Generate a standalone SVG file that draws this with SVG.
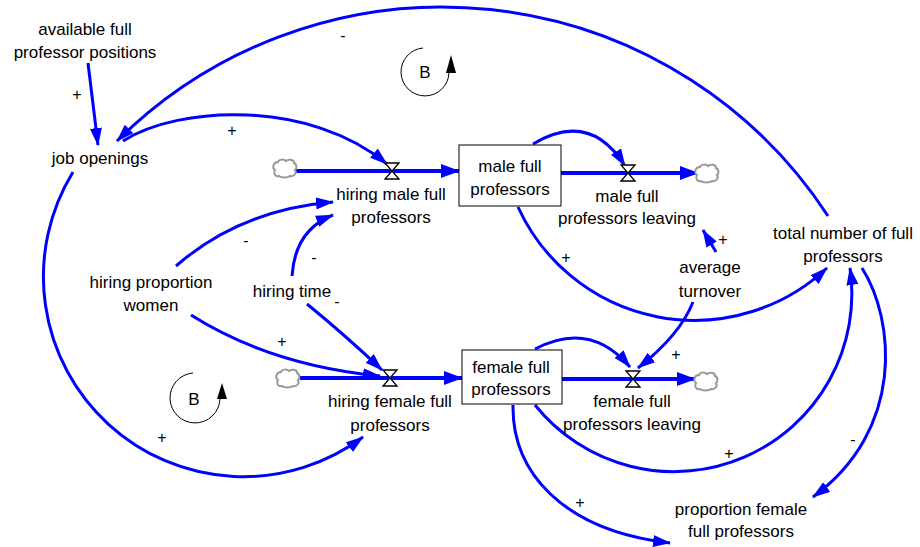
<svg xmlns="http://www.w3.org/2000/svg" width="920" height="547" viewBox="0 0 920 547">
<style>
text{font-family:"Liberation Sans",Arial,sans-serif;font-size:17px;fill:#000;text-anchor:middle}
.s{font-size:16px}
.c{fill:none;stroke:#0000FF;stroke-width:3;marker-end:url(#ah)}
.f{fill:none;stroke:#0000FF;stroke-width:4;marker-end:url(#fh)}
.box{fill:#fff;stroke:#000;stroke-width:1}
.valve{fill:#fff;stroke:#000;stroke-width:1.3}
.cloud{fill:#fff;stroke:#999;stroke-width:2}
.loop{fill:none;stroke:#000;stroke-width:1}
</style>
<defs>
<marker id="ah" viewBox="0 0 18 12" refX="17" refY="6" markerWidth="18" markerHeight="12" markerUnits="userSpaceOnUse" orient="auto"><path d="M0,0 L18,6 L0,12 z" fill="#0000FF"/></marker>
<marker id="fh" viewBox="0 0 19 14" refX="18" refY="7" markerWidth="19" markerHeight="14" markerUnits="userSpaceOnUse" orient="auto"><path d="M0,0 L19,7 L0,14 z" fill="#0000FF"/></marker>
<path id="cl" class="cloud" d="M-6,8 C-10,9 -12,5 -10,2 C-13,0 -12,-6 -7,-6 C-6,-9 -1,-9 1,-7 C3,-9 9,-9 9,-5 C12,-4 12,1 10,2 C12,5 9,9 5,8 C3,10 -4,10 -6,8 Z"/>
<path id="vl" class="valve" d="M-7,-8 L7,-8 L0,0 L7,8 L-7,8 L0,0 Z"/>
</defs>

<g id="connectors">
<path class="c" d="M88,63 L98,145"/>
<path class="c" d="M828,216 A461,461 0 0 0 117,141"/>
<path class="c" d="M123,141 C180,105 310,100 387,164"/>
<path class="c" d="M73,172 A200,200 0 0 0 363,437"/>
<path class="c" d="M176,266 Q240,210 333,202"/>
<path class="c" d="M292,276 Q295,230 333,215"/>
<path class="c" d="M307,304 Q345,335 382,370"/>
<path class="c" d="M191,315 Q270,365 380,376"/>
<path class="c" d="M533,144 Q590,110 625,166"/>
<path class="c" d="M518,207 A194,194 0 0 0 827,268"/>
<path class="c" d="M716,252 L703,230"/>
<path class="c" d="M693,302 Q680,335 638,368"/>
<path class="c" d="M535,349 Q590,320 630,367"/>
<path class="c" d="M535,405 A178,178 0 0 0 850,268"/>
<path class="c" d="M862,268 C895,320 905,430 813,497"/>
<path class="c" d="M513,405 C512,470 560,530 670,543"/>
<path class="f" d="M296,171 L459,171"/>
<path class="f" d="M561,173 L698,173"/>
<path class="f" d="M300,378 L462,378"/>
<path class="f" d="M562,379 L695,379"/>
</g>

<g id="signs">
<text class="s" x="77" y="100">+</text>
<text class="s" x="343" y="41">-</text>
<text class="s" x="232" y="136">+</text>
<text class="s" x="246" y="246">-</text>
<text class="s" x="314" y="263">-</text>
<text class="s" x="337" y="307">-</text>
<text class="s" x="282" y="347">+</text>
<text class="s" x="162" y="443">+</text>
<text class="s" x="566" y="263">+</text>
<text class="s" x="723" y="245">+</text>
<text class="s" x="676" y="360">+</text>
<text class="s" x="729" y="459">+</text>
<text class="s" x="853" y="445">-</text>
<text class="s" x="580" y="508">+</text>
</g>

<g id="loop1">
<path class="loop" d="M423,48 A24,24 0 1 0 449,73"/>
<path d="M446,73 L456,73 L451,55 Z" fill="#000"/>
<text x="425" y="78">B</text>
</g>
<g id="loop2">
<path class="loop" d="M193,373 A25,25 0 1 0 220,399"/>
<path d="M217,399 L227,399 L222,383 Z" fill="#000"/>
<text x="194" y="405">B</text>
</g>

<g id="cloud1"><use href="#cl" x="285" y="168"/></g>
<g id="cloud2"><use href="#cl" x="707" y="173"/></g>
<g id="cloud3"><use href="#cl" x="288" y="378"/></g>
<g id="cloud4"><use href="#cl" x="706" y="381"/></g>

<g id="available-full-professor-positions">
<text x="85" y="35">available full</text>
<text x="85" y="58">professor positions</text>
</g>
<g id="job-openings"><text x="100" y="164">job openings</text></g>

<g id="hiring-male-full-professors">
<use href="#vl" x="392" y="171"/>
<text x="391" y="200">hiring male full</text>
<text x="391" y="223">professors</text>
</g>
<g id="male-full-professors">
<rect class="box" x="459" y="145" width="102" height="61"/>
<text x="510" y="172">male full</text>
<text x="510" y="195">professors</text>
</g>
<g id="male-full-professors-leaving">
<use href="#vl" x="628" y="173"/>
<text x="627" y="202">male full</text>
<text x="627" y="224">professors leaving</text>
</g>
<g id="hiring-proportion-women">
<text x="151" y="288">hiring proportion</text>
<text x="151" y="311">women</text>
</g>
<g id="hiring-time"><text x="292" y="297">hiring time</text></g>
<g id="average-turnover">
<text x="710" y="273">average</text>
<text x="710" y="297">turnover</text>
</g>
<g id="total-number-of-full-professors">
<text x="843" y="239">total number of full</text>
<text x="843" y="262">professors</text>
</g>
<g id="hiring-female-full-professors">
<use href="#vl" x="390" y="378"/>
<text x="390" y="407">hiring female full</text>
<text x="390" y="431">professors</text>
</g>
<g id="female-full-professors">
<rect class="box" x="462" y="350" width="100" height="54"/>
<text x="511" y="373">female full</text>
<text x="511" y="395">professors</text>
</g>
<g id="female-full-professors-leaving">
<use href="#vl" x="633" y="379"/>
<text x="632" y="407">female full</text>
<text x="632" y="430">professors leaving</text>
</g>
<g id="proportion-female-full-professors">
<text x="741" y="515">proportion female</text>
<text x="741" y="537">full professors</text>
</g>
</svg>
